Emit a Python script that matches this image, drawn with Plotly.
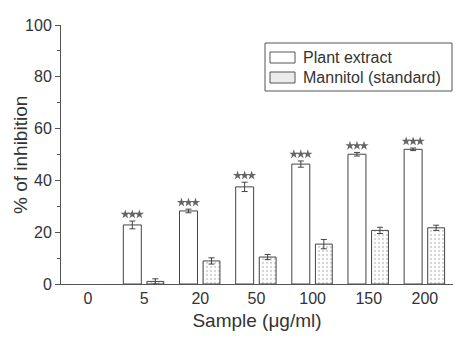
import plotly.graph_objects as go

categories = ["0", "5", "20", "50", "100", "150", "200"]
plant_vals = [None, 22.8, 28.2, 37.5, 46.3, 50.1, 52.0]
plant_err = [None, 1.5, 0.7, 1.8, 1.2, 0.7, 0.5]
mannitol_vals = [None, 1.0, 8.9, 10.4, 15.4, 20.7, 21.7]
mannitol_err = [None, 1.0, 1.2, 1.0, 1.8, 1.2, 1.0]
star_counts = [0, 3, 3, 3, 3, 3, 3]  # "***" significance marks
series_names = ["Plant extract", "Mannitol (standard)"]

xpos = list(range(len(categories)))
font = "Liberation Sans, Arial, sans-serif"
txt = "#333333"
edge = "#444444"

fig = go.Figure()
fig.add_trace(go.Bar(
    x=xpos, y=plant_vals, name=series_names[0],
    width=0.32, offset=-0.37,
    marker=dict(color="white", line=dict(color=edge, width=1)),
    error_y=dict(type="data", array=plant_err, color=edge, thickness=1, width=3),
))
fig.add_trace(go.Bar(
    x=xpos, y=mannitol_vals, name=series_names[1],
    width=0.30, offset=0.05,
    marker=dict(color="white", line=dict(color=edge, width=1),
                pattern=dict(shape=".", fgcolor="#aaaaaa", bgcolor="white", size=4, solidity=0.25)),
    error_y=dict(type="data", array=mannitol_err, color=edge, thickness=1, width=3),
))

# significance stars above the plant-extract bars (drawn as star markers)
sx, sy = [], []
for p, v, e, n in zip(xpos, plant_vals, plant_err, star_counts):
    if v is None or n == 0:
        continue
    for k in range(n):
        sx.append(p - 0.21 + (k - (n - 1) / 2) * 0.125)
        sy.append(v + e + 2.6)
fig.add_trace(go.Scatter(
    x=sx, y=sy, mode="markers", showlegend=False, hoverinfo="skip",
    marker=dict(symbol="star", size=7, color="#666666", line=dict(width=0)),
))

# manual legend (box, swatches, labels)
def px_x(px):
    return (px - 61) / 392

def px_y(py):
    return (284 - py) / 259

fig.add_shape(type="rect", xref="paper", yref="paper",
              x0=px_x(265), x1=px_x(452), y0=px_y(91), y1=px_y(43),
              line=dict(color="#555555", width=1), fillcolor="white", layer="above")
swatch_fill = ["white", "#ececec"]
row_y = [57.5, 77.5]
for name, fill, ry in zip(series_names, swatch_fill, row_y):
    fig.add_shape(type="rect", xref="paper", yref="paper",
                  x0=px_x(270), x1=px_x(295), y0=px_y(ry + 5.5), y1=px_y(ry - 5.5),
                  line=dict(color="#555555", width=1), fillcolor=fill, layer="above")
    fig.add_annotation(x=px_x(301), y=px_y(ry), xref="paper", yref="paper",
                       text=name, showarrow=False, xanchor="left", yanchor="middle",
                       font=dict(family=font, size=16, color=txt))

# y-axis title
fig.add_annotation(x=px_x(20), y=px_y(155), xref="paper", yref="paper",
                   text="% of inhibition", textangle=-90, showarrow=False,
                   xanchor="center", yanchor="middle",
                   font=dict(family=font, size=19, color=txt))

fig.update_layout(
    width=474, height=339,
    margin=dict(l=61, r=21, t=25, b=55),
    paper_bgcolor="white", plot_bgcolor="white",
    font=dict(family=font, size=16, color=txt),
    showlegend=False,
    xaxis=dict(
        tickmode="array", tickvals=xpos, ticktext=categories, automargin=False,
        range=[-0.48, 6.5], showline=True, linecolor="#555555", linewidth=1,
        ticks="", showgrid=False, zeroline=False,
        title=dict(text="Sample (μg/ml)", font=dict(size=19, color=txt), standoff=7),
        tickfont=dict(size=16, color=txt),
    ),
    yaxis=dict(
        range=[0, 100], tickvals=[0, 20, 40, 60, 80, 100], automargin=False,
        showline=True, linecolor="#555555", linewidth=1,
        ticks="outside", ticklen=5, tickcolor="#555555",
        minor=dict(tickvals=[10, 30, 50, 70, 90], ticks="outside", ticklen=3, tickcolor="#555555"),
        showgrid=False, zeroline=False,
        tickfont=dict(size=16, color=txt),
    ),
)
fig.write_html("out.html")
